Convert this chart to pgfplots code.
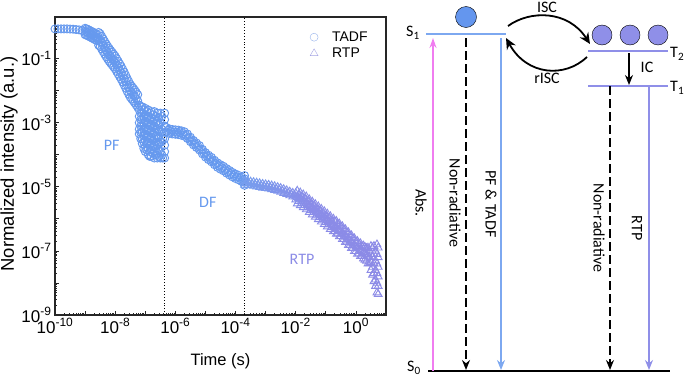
\documentclass[border=0pt]{standalone}
\usepackage{pgfplots}
\pgfplotsset{compat=1.18}
\usepackage{fontspec}
\setmainfont{Liberation Sans}
\newfontfamily\carl{Carlito}
\usetikzlibrary{arrows.meta}
\definecolor{tadf}{RGB}{102,153,238}
\definecolor{tadfl}{RGB}{150,178,235}
\definecolor{rtpc}{RGB}{140,140,230}
\definecolor{rtpl}{RGB}{165,165,228}
\definecolor{sblue}{RGB}{125,168,240}
\definecolor{dotblue}{RGB}{100,150,238}
\definecolor{purp}{RGB}{143,143,232}
\definecolor{pinkc}{RGB}{240,125,240}
\newcommand{\tl}[1]{10\textsuperscript{\fontsize{12}{12}\selectfont #1}}
\begin{document}
\begin{tikzpicture}[x=1pt,y=1pt]
\begin{axis}[
 at={(55pt,61pt)}, anchor=south west, scale only axis, width=331pt, height=298pt,
 xmode=log, ymode=log, xmin=1e-10, xmax=10, ymin=1e-9, ymax=2,
 axis line style={line width=1.1pt, black!85},
 xtick={1e-10,1e-9,1e-8,1e-7,1e-6,1e-5,1e-4,1e-3,1e-2,1e-1,1,10},
 xticklabels={\tl{-10},,\tl{-8},,\tl{-6},,\tl{-4},,\tl{-2},,\tl{0},},
 ytick={1e-9,1e-8,1e-7,1e-6,1e-5,1e-4,1e-3,1e-2,1e-1,1},
 yticklabels={\tl{-9},,\tl{-7},,\tl{-5},,\tl{-3},,\tl{-1},},
 xtick pos=bottom, ytick pos=left, tick align=inside,
 major tick length=4pt, minor tick length=2.5pt,
 tick style={black!85, line width=0.8pt},
 ticklabel style={font=\fontsize{17}{19}\selectfont},
 xlabel={Time (s)}, ylabel={Normalized intensity (a.u.)},
 xlabel style={font=\fontsize{16.5}{18}\selectfont, at={(axis description cs:0.5,-0.154)}, anchor=center},
 ylabel style={font=\fontsize{18.5}{20}\selectfont, at={(axis description cs:-0.139,0.507)}, anchor=center},
 colormap={rtpmap}{rgb255=(118,158,238) rgb255=(138,140,232) rgb255=(140,138,230)},
 legend style={at={(axis description cs:0.761,0.965)}, anchor=north west, draw=none, fill=none,
   font=\fontsize{14}{16}\selectfont, row sep=1pt, column sep=12pt},
 legend cell align=left,
]
\addlegendimage{only marks, mark=o, mark size=4pt, color=tadfl}
\addlegendentry{TADF}
\addlegendimage{only marks, mark=triangle, mark size=4.5pt, color=rtpl}
\addlegendentry{RTP}

\addplot[forget plot, only marks, mark=o, mark size=4pt, color=tadf, mark options={line width=0.95pt}] coordinates {
(1e-10,0.851) (1.259e-10,0.851) (1.585e-10,0.851) (1.995e-10,0.851) (2.512e-10,0.851) (3.162e-10,0.841) (3.981e-10,0.832) (5.012e-10,0.813) (6.31e-10,0.794) (7.943e-10,0.759)
(1e-9,0.891) (1e-9,0.708) (1e-9,0.562)
(1.122e-9,0.851) (1.122e-9,0.676) (1.122e-9,0.537)
(1.259e-9,0.813) (1.259e-9,0.646) (1.259e-9,0.513)
(1.413e-9,0.768) (1.413e-9,0.610) (1.413e-9,0.484)
(1.585e-9,0.724) (1.585e-9,0.575) (1.585e-9,0.457)
(1.778e-9,0.684) (1.778e-9,0.543) (1.778e-9,0.431)
(1.995e-9,0.646) (1.995e-9,0.513) (1.995e-9,0.407)
(2.239e-9,0.609) (2.239e-9,0.484) (2.239e-9,0.384)
(2.512e-9,0.575) (2.512e-9,0.457) (2.512e-9,0.363)
(2.818e-9,0.661) (2.818e-9,0.417) (2.818e-9,0.263)
(3.162e-9,0.602) (3.162e-9,0.380) (3.162e-9,0.240)
(3.548e-9,0.501) (3.548e-9,0.316) (3.548e-9,0.200)
(3.981e-9,0.417) (3.981e-9,0.263) (3.981e-9,0.166)
(4.467e-9,0.347) (4.467e-9,0.219) (4.467e-9,0.138)
(5.012e-9,0.288) (5.012e-9,0.182) (5.012e-9,0.115)
(5.623e-9,0.245) (5.623e-9,0.155) (5.623e-9,0.0977)
(6.31e-9,0.209) (6.31e-9,0.132) (6.31e-9,0.0832)
(7.079e-9,0.182) (7.079e-9,0.115) (7.079e-9,0.0724)
(7.943e-9,0.158) (7.943e-9,0.1) (7.943e-9,0.0631)
(8.913e-9,0.138) (8.913e-9,0.0871) (8.913e-9,0.055)
(1e-8,0.120) (1e-8,0.0759) (1e-8,0.0479)
(1.122e-8,0.1) (1.122e-8,0.0631) (1.122e-8,0.0398)
(1.259e-8,0.0832) (1.259e-8,0.0525) (1.259e-8,0.0331)
(1.413e-8,0.0692) (1.413e-8,0.0437) (1.413e-8,0.0275)
(1.585e-8,0.0575) (1.585e-8,0.0363) (1.585e-8,0.0229)
(1.778e-8,0.0468) (1.778e-8,0.0295) (1.778e-8,0.0186)
(1.995e-8,0.0380) (1.995e-8,0.0240) (1.995e-8,0.0151)
(2.239e-8,0.0302) (2.239e-8,0.0191) (2.239e-8,0.0120)
(2.512e-8,0.0240) (2.512e-8,0.0151) (2.512e-8,0.00955)
(2.818e-8,0.0195) (2.818e-8,0.0123) (2.818e-8,0.00776)
(3.162e-8,0.0158) (3.162e-8,0.01) (3.162e-8,0.00631)
(3.548e-8,0.0138) (3.548e-8,0.00871) (3.548e-8,0.0055)
(3.981e-8,0.0120) (3.981e-8,0.00759) (3.981e-8,0.00479)
(4.467e-8,0.0105) (4.467e-8,0.00661) (4.467e-8,0.00417)
(5.012e-8,0.00891) (5.012e-8,0.00562) (5.012e-8,0.00355)
(5.623e-8,0.00759) (5.623e-8,0.00479) (5.623e-8,0.00302)
(6.31e-8,3.55e-3) (6.31e-8,2.51e-3) (6.31e-8,1.585e-3) (6.31e-8,1e-3) (6.31e-8,6.31e-4) (6.31e-8,4.47e-4)
(7.079e-8,3.16e-3) (7.079e-8,2.0e-3) (7.079e-8,1.26e-3) (7.079e-8,7.94e-4) (7.079e-8,5.01e-4) (7.079e-8,3.16e-4)
(7.943e-8,3.16e-3) (7.943e-8,2.0e-3) (7.943e-8,1.26e-3) (7.943e-8,7.94e-4) (7.943e-8,5.01e-4) (7.943e-8,3.16e-4) (7.943e-8,2.24e-4)
(8.913e-8,2.51e-3) (8.913e-8,1.585e-3) (8.913e-8,1e-3) (8.913e-8,6.31e-4) (8.913e-8,3.98e-4) (8.913e-8,2.51e-4) (8.913e-8,1.585e-4)
(1e-7,2.82e-3) (1e-7,1.78e-3) (1e-7,1.12e-3) (1e-7,7.08e-4) (1e-7,4.47e-4) (1e-7,2.82e-4) (1e-7,1.78e-4) (1e-7,1.26e-4)
(1.122e-7,2.24e-3) (1.122e-7,1.41e-3) (1.122e-7,8.91e-4) (1.122e-7,5.62e-4) (1.122e-7,3.55e-4) (1.122e-7,2.24e-4) (1.122e-7,1.41e-4)
(1.259e-7,2.51e-3) (1.259e-7,1.585e-3) (1.259e-7,1e-3) (1.259e-7,6.31e-4) (1.259e-7,3.98e-4) (1.259e-7,2.51e-4) (1.259e-7,1.585e-4) (1.259e-7,1e-4)
(1.413e-7,2.0e-3) (1.413e-7,1.26e-3) (1.413e-7,7.94e-4) (1.413e-7,5.01e-4) (1.413e-7,3.16e-4) (1.413e-7,2.0e-4) (1.413e-7,1.26e-4) (1.413e-7,8.91e-5)
(1.585e-7,2.24e-3) (1.585e-7,1.41e-3) (1.585e-7,8.91e-4) (1.585e-7,5.62e-4) (1.585e-7,3.55e-4) (1.585e-7,2.24e-4) (1.585e-7,1.41e-4) (1.585e-7,8.91e-5)
(1.778e-7,1.78e-3) (1.778e-7,1.12e-3) (1.778e-7,7.08e-4) (1.778e-7,4.47e-4) (1.778e-7,2.82e-4) (1.778e-7,1.78e-4) (1.778e-7,1.12e-4)
(1.995e-7,2.24e-3) (1.995e-7,1.26e-3) (1.995e-7,7.94e-4) (1.995e-7,5.01e-4) (1.995e-7,3.16e-4) (1.995e-7,2.0e-4) (1.995e-7,1.26e-4) (1.995e-7,7.94e-5)
(2.239e-7,1.585e-3) (2.239e-7,1e-3) (2.239e-7,6.31e-4) (2.239e-7,3.98e-4) (2.239e-7,2.51e-4) (2.239e-7,1.585e-4) (2.239e-7,1e-4)
(2.512e-7,2.0e-3) (2.512e-7,1.12e-3) (2.512e-7,6.31e-4) (2.512e-7,3.55e-4) (2.512e-7,2.0e-4) (2.512e-7,1.12e-4) (2.512e-7,7.94e-5)
(2.818e-7,1.41e-3) (2.818e-7,8.91e-4) (2.818e-7,5.62e-4) (2.818e-7,3.55e-4) (2.818e-7,2.24e-4) (2.818e-7,1.41e-4) (2.818e-7,8.91e-5)
(3.162e-7,2.0e-3) (3.162e-7,1e-3) (3.162e-7,5.01e-4) (3.162e-7,2.51e-4) (3.162e-7,1.26e-4) (3.162e-7,7.94e-5)
(3.548e-7,1.585e-3) (3.548e-7,6.31e-4) (3.548e-7,2.51e-4) (3.548e-7,1e-4)
(3.8e-7,7.94e-5) (3.8e-7,3.16e-4)
(4.4e-7,2.0e-3) (4.4e-7,1.26e-3) (4.4e-7,7.94e-4) (4.4e-7,5.01e-4) (4.4e-7,3.16e-4) (4.4e-7,2.0e-4) (4.4e-7,1.26e-4) (4.4e-7,7.94e-5)
(5.012e-7,7.08e-4) (5.012e-7,5.13e-4)
(5.623e-7,5.75e-4)
(6.31e-7,6.46e-4) (6.31e-7,4.68e-4)
(7.079e-7,5.37e-4)
(7.943e-7,6.17e-4) (7.943e-7,4.47e-4)
(8.913e-7,5.19e-4)
(1e-6,6.03e-4) (1e-6,4.37e-4)
(1.122e-6,5.07e-4)
(1.259e-6,5.89e-4) (1.259e-6,4.27e-4)
(1.413e-6,4.90e-4)
(1.585e-6,5.62e-4) (1.585e-6,4.07e-4)
(1.778e-6,4.62e-4)
(1.995e-6,5.25e-4) (1.995e-6,3.80e-4)
(2.239e-6,4.12e-4)
(2.512e-6,4.47e-4) (2.512e-6,3.24e-4)
(2.818e-6,3.39e-4)
(3.162e-6,3.55e-4) (3.162e-6,2.57e-4)
(3.548e-6,2.69e-4)
(3.981e-6,2.82e-4) (3.981e-6,2.04e-4)
(4.467e-6,2.19e-4)
(5.012e-6,2.34e-4) (5.012e-6,1.70e-4)
(5.623e-6,1.82e-4)
(6.31e-6,1.95e-4) (6.31e-6,1.41e-4)
(7.079e-6,1.45e-4)
(7.943e-6,1.48e-4) (7.943e-6,1.07e-4)
(8.913e-6,1.12e-4)
(1e-5,1.17e-4) (1e-5,8.51e-5)
(1.122e-5,9.12e-5)
(1.259e-5,9.77e-5) (1.259e-5,7.08e-5)
(1.413e-5,7.67e-5)
(1.585e-5,8.32e-5) (1.585e-5,6.03e-5)
(1.778e-5,6.38e-5)
(1.995e-5,6.76e-5) (1.995e-5,4.90e-5)
(2.239e-5,5.25e-5)
(2.512e-5,5.62e-5) (2.512e-5,4.07e-5)
(2.818e-5,4.47e-5)
(3.162e-5,4.90e-5) (3.162e-5,3.55e-5)
(3.548e-5,3.94e-5)
(3.981e-5,4.37e-5) (3.981e-5,3.16e-5)
(4.467e-5,3.43e-5)
(5.012e-5,3.72e-5) (5.012e-5,2.69e-5)
(5.623e-5,2.95e-5)
(6.31e-5,3.24e-5) (6.31e-5,2.34e-5)
(7.079e-5,2.57e-5)
(7.943e-5,2.82e-5) (7.943e-5,2.04e-5)
(8.913e-5,2.26e-5)
(1e-4,2.51e-5) (1e-4,1.82e-5)
(1.122e-4,2.04e-5)
(1.259e-4,2.29e-5) (1.259e-4,1.66e-5)
(1.413e-4,1.84e-5)
(1.585e-4,2.04e-5) (1.585e-4,1.48e-5)
(1.778e-4,1.66e-5)
(1.995e-4,2.24e-5) (1.995e-4,1.78e-5) (1.995e-4,1.41e-5) (1.995e-4,1.12e-5)
};

\addplot[forget plot, scatter, only marks, mark=triangle, mark size=4.5pt, point meta=x,
  scatter/use mapped color={draw=mapped color, fill=none}, mark options={line width=0.9pt}] coordinates {
(1.995e-4,1.51e-5) (1.995e-4,1.15e-5)
(2.239e-4,1.30e-5)
(2.512e-4,1.48e-5) (2.512e-4,1.12e-5)
(2.818e-4,1.27e-5)
(3.162e-4,1.45e-5) (3.162e-4,1.10e-5)
(3.548e-4,1.24e-5)
(3.981e-4,1.40e-5) (3.981e-4,1.06e-5)
(4.467e-4,1.19e-5)
(5.012e-4,1.35e-5) (5.012e-4,1.02e-5)
(5.623e-4,1.15e-5)
(6.31e-4,1.29e-5) (6.31e-4,9.77e-6)
(7.079e-4,1.10e-5)
(7.943e-4,1.23e-5) (7.943e-4,9.33e-6)
(8.913e-4,1.05e-5)
(1e-3,1.19e-5) (1e-3,9.02e-6)
(1.122e-3,1.02e-5)
(1.259e-3,1.15e-5) (1.259e-3,8.71e-6)
(1.413e-3,9.77e-6)
(1.585e-3,1.10e-5) (1.585e-3,8.32e-6)
(1.778e-3,9.27e-6)
(1.995e-3,1.04e-5) (1.995e-3,7.85e-6)
(2.239e-3,8.75e-6)
(2.512e-3,9.77e-6) (2.512e-3,7.41e-6)
(2.818e-3,8.22e-6)
(3.162e-3,9.12e-6) (3.162e-3,6.92e-6)
(3.548e-3,7.62e-6)
(3.981e-3,8.41e-6) (3.981e-3,6.38e-6)
(4.467e-3,7.03e-6)
(5.012e-3,7.76e-6) (5.012e-3,5.89e-6)
(5.623e-3,6.46e-6)
(6.31e-3,7.08e-6) (6.31e-3,5.37e-6)
(7.079e-3,5.89e-6)
(7.943e-3,6.46e-6) (7.943e-3,4.90e-6)
(8.913e-3,5.31e-6)
(0.01,6.31e-6) (0.01,5.01e-6) (0.01,3.98e-6)
(0.01122,7.50e-6) (0.01122,4.73e-6) (0.01122,2.98e-6)
(0.01259,5.62e-6) (0.01259,4.47e-6) (0.01259,3.55e-6)
(0.01413,6.61e-6) (0.01413,4.17e-6) (0.01413,2.63e-6)
(0.01585,4.90e-6) (0.01585,3.89e-6) (0.01585,3.09e-6)
(0.01778,5.75e-6) (0.01778,3.63e-6) (0.01778,2.29e-6)
(0.01995,4.27e-6) (0.01995,3.39e-6) (0.01995,2.69e-6)
(0.02239,4.96e-6) (0.02239,3.13e-6) (0.02239,1.97e-6)
(0.02512,3.55e-6) (0.02512,2.82e-6) (0.02512,2.24e-6)
(0.02818,4.07e-6) (0.02818,2.57e-6) (0.02818,1.62e-6)
(0.03162,2.95e-6) (0.03162,2.34e-6) (0.03162,1.86e-6)
(0.03548,3.43e-6) (0.03548,2.16e-6) (0.03548,1.36e-6)
(0.03981,2.51e-6) (0.03981,2.0e-6) (0.03981,1.585e-6)
(0.04467,2.88e-6) (0.04467,1.82e-6) (0.04467,1.15e-6)
(0.05012,2.09e-6) (0.05012,1.66e-6) (0.05012,1.32e-6)
(0.05623,2.43e-6) (0.05623,1.53e-6) (0.05623,9.66e-7)
(0.0631,1.78e-6) (0.0631,1.41e-6) (0.0631,1.12e-6)
(0.07079,2.04e-6) (0.07079,1.29e-6) (0.07079,8.13e-7)
(0.07943,1.48e-6) (0.07943,1.17e-6) (0.07943,9.33e-7)
(0.08913,1.72e-6) (0.08913,1.08e-6) (0.08913,6.84e-7)
(0.1,1.26e-6) (0.1,1e-6) (0.1,7.94e-7)
(0.1122,1.45e-6) (0.1122,9.12e-7) (0.1122,5.75e-7)
(0.1259,1.05e-6) (0.1259,8.32e-7) (0.1259,6.61e-7)
(0.1413,1.20e-6) (0.1413,7.59e-7) (0.1413,4.79e-7)
(0.1585,8.71e-7) (0.1585,6.92e-7) (0.1585,5.50e-7)
(0.1778,1.01e-6) (0.1778,6.38e-7) (0.1778,4.03e-7)
(0.1995,8.32e-7) (0.1995,5.89e-7) (0.1995,4.17e-7)
(0.2239,8.51e-7) (0.2239,5.37e-7) (0.2239,3.39e-7)
(0.2512,6.92e-7) (0.2512,4.90e-7) (0.2512,3.47e-7)
(0.2818,7.08e-7) (0.2818,4.47e-7) (0.2818,2.82e-7)
(0.3162,5.75e-7) (0.3162,4.07e-7) (0.3162,2.88e-7)
(0.3548,5.82e-7) (0.3548,3.67e-7) (0.3548,2.32e-7)
(0.3981,4.68e-7) (0.3981,3.31e-7) (0.3981,2.34e-7)
(0.4467,4.73e-7) (0.4467,2.99e-7) (0.4467,1.88e-7)
(0.5012,3.80e-7) (0.5012,2.69e-7) (0.5012,1.91e-7)
(0.5623,3.80e-7) (0.5623,2.40e-7) (0.5623,1.51e-7)
(0.631,3.02e-7) (0.631,2.14e-7) (0.631,1.51e-7)
(0.7079,3.05e-7) (0.7079,1.93e-7) (0.7079,1.22e-7)
(0.7943,2.45e-7) (0.7943,1.74e-7) (0.7943,1.23e-7)
(0.8913,2.45e-7) (0.8913,1.55e-7) (0.8913,9.77e-8)
(1,1.95e-7) (1,1.38e-7) (1,9.77e-8)
(1.122,2.02e-7) (1.122,1.27e-7) (1.122,8.04e-8)
(1.259,1.66e-7) (1.259,1.17e-7) (1.259,8.32e-8)
(1.413,1.72e-7) (1.413,1.08e-7) (1.413,6.84e-8)
(1.585,1.41e-7) (1.585,1e-7) (1.585,7.08e-8)
(1.778,1.45e-7) (1.778,9.12e-8) (1.778,5.75e-8)
(1.995,1.32e-7) (1.995,8.32e-8) (1.995,5.25e-8)
(2.239,1.22e-7) (2.239,7.67e-8) (2.239,4.84e-8)
(2.512,1.26e-7) (2.512,7.08e-8) (2.512,3.98e-8)
(2.818,1.02e-7) (2.818,6.46e-8) (2.818,4.07e-8)
(3.162,1.41e-7) (3.162,7.94e-8) (3.162,4.47e-8) (3.162,2.51e-8)
(3.548,1.26e-7) (3.548,6.31e-8) (3.548,3.16e-8) (3.548,1.78e-8)
(3.981,1.41e-7) (3.981,7.94e-8) (3.981,3.98e-8) (3.981,2.0e-8) (3.981,1.12e-8)
(4.467,1e-7) (4.467,5.01e-8) (4.467,2.51e-8) (4.467,1.26e-8) (4.467,7.94e-9)
(5.012,1.585e-7) (5.012,7.94e-8) (5.012,3.98e-8) (5.012,2.0e-8) (5.012,1e-8) (5.012,5.01e-9)
(5.5,1.26e-7) (5.5,6.31e-8) (5.5,3.16e-8) (5.5,1.585e-8) (5.5,7.94e-9) (5.5,4.47e-9)
};

\addplot[forget plot, black, dotted, line width=0.9pt] coordinates {(4.4e-7,1e-9) (4.4e-7,2)};
\addplot[forget plot, black, dotted, line width=0.9pt] coordinates {(2.0e-4,1e-9) (2.0e-4,2)};

\node[font=\carl\fontsize{16}{18}\selectfont, color=tadf] at (axis cs:7.6e-9,1.95e-4) {PF};
\node[font=\carl\fontsize{16}{18}\selectfont, color=tadf] at (axis cs:1.2e-5,3.2e-6) {DF};
\node[font=\carl\fontsize{16}{18}\selectfont, color=rtpc] at (axis cs:0.0162,5.5e-8) {RTP};
\end{axis}

\begin{axis}[at={(390pt,0pt)}, anchor=south west, scale only axis, width=295pt, height=376pt,
  xmin=390, xmax=685, ymin=0, ymax=376, axis lines=none, clip=false]
% levels
\addplot[sblue, line width=1.6pt] coordinates {(426,342) (506,342)};
\addplot[purp, line width=1.6pt] coordinates {(588,325) (668,325)};
\addplot[purp, line width=1.6pt] coordinates {(588,290) (668,290)};
\addplot[black, line width=2pt] coordinates {(428,5) (670,5)};
% populations
\addplot[only marks, mark=*, mark size=10.5pt, mark options={fill=dotblue, draw=none}] coordinates {(466,359)};
\addplot[only marks, mark=*, mark size=10pt, mark options={fill=purp, draw=none}] coordinates {(602,341) (630,341) (658,341)};
% transitions
\addplot[pinkc, line width=1.5pt, -{Stealth[length=10pt,width=7pt]}] coordinates {(433,5) (433,338)};
\addplot[black, line width=1.5pt, dash pattern=on 9pt off 4pt, -{Stealth[length=10pt,width=8pt]}] coordinates {(466,338) (466,6)};
\addplot[sblue, line width=1.5pt, -{Stealth[length=10pt,width=8pt]}] coordinates {(501,338) (501,6)};
\addplot[black, line width=1.5pt, dash pattern=on 9pt off 4pt, -{Stealth[length=10pt,width=8pt]}] coordinates {(610,290) (610,6)};
\addplot[purp, line width=1.5pt, -{Stealth[length=10pt,width=8pt]}] coordinates {(649,290) (649,6)};
\addplot[black, line width=1.5pt, -{Stealth[length=10pt,width=8pt]}] coordinates {(629,323) (629,291)};
\draw[black, line width=1.8pt, -{Stealth[length=11pt,width=10pt]}] (axis cs:508,350) .. controls (axis cs:530,366) and (axis cs:568,366) .. (axis cs:590,332);
\draw[black, line width=1.8pt, -{Stealth[length=11pt,width=10pt]}] (axis cs:587,319) .. controls (axis cs:565,298) and (axis cs:527,300) .. (axis cs:506,338);
% labels
\begin{scope}[every node/.style={font=\carl\fontsize{16}{18}\selectfont}]
\node at (axis cs:547,369) {ISC};
\node at (axis cs:547,298) {rISC};
\node at (axis cs:647,309) {IC};
\node at (axis cs:413,343) {S\textsubscript{1}};
\node[anchor=west, inner sep=1pt] at (axis cs:669,322) {T\textsubscript{2}};
\node[anchor=west, inner sep=1pt] at (axis cs:669,288) {T\textsubscript{1}};
\node at (axis cs:414,8) {S\textsubscript{0}};
\node[rotate=-90] at (axis cs:421,173) {Abs.};
\node[rotate=-90] at (axis cs:455,173) {Non-radiative};
\node[rotate=-90] at (axis cs:491,172) {PF \& TADF};
\node[rotate=-90] at (axis cs:599,148) {Non-radiative};
\node[rotate=-90] at (axis cs:637,148) {RTP};
\end{scope}
\end{axis}
\pgfresetboundingbox
\path[use as bounding box] (0,0) rectangle (685,376);
\end{tikzpicture}
\end{document}
